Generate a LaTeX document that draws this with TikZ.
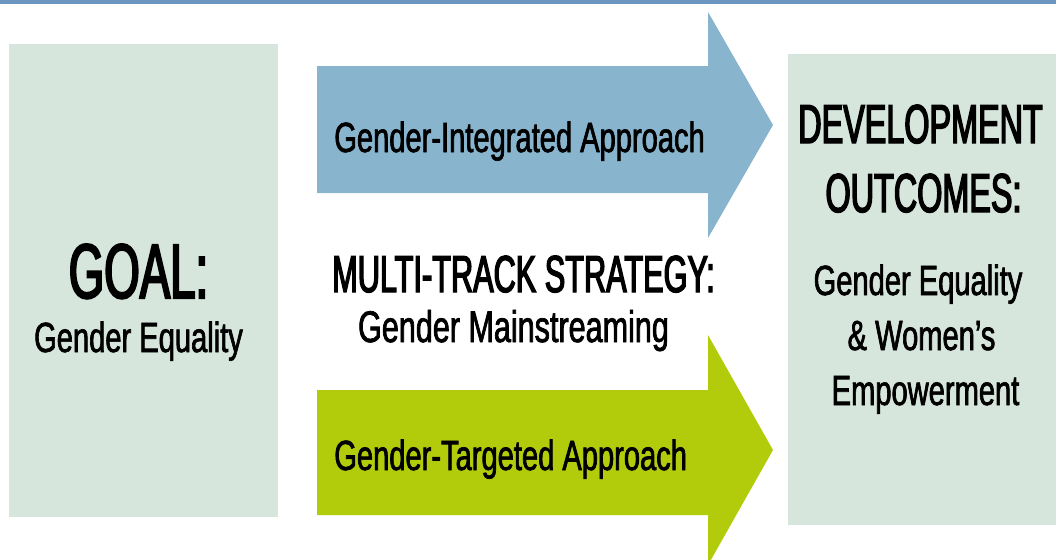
\documentclass[tikz,border=0pt]{standalone}
\usepackage{fontspec}
\setmainfont{Liberation Sans}[FakeStretch=0.69,FakeBold=1.6]
\newfontfamily\headfont{Liberation Sans}[FakeStretch=0.59,FakeBold=2.6]
\usepackage{tikz}

\definecolor{topline}{RGB}{106,150,192}
\definecolor{boxgreen}{RGB}{215,230,221}
\definecolor{trackblue}{RGB}{137,180,206}
\definecolor{trackgreen}{RGB}{178,204,11}

\begin{document}
\begin{tikzpicture}[x=0.025cm,y=-0.025cm]
        \useasboundingbox (0,0) rectangle (1056,559);
        \clip (0,0) rectangle (1056,559);
        \fill[topline] (0,0) rectangle (1056,3.5);
        \fill[boxgreen] (9,44) rectangle (278,517);
        \fill[boxgreen] (788,54) rectangle (1056,525);
        \fill[trackblue] (317,66) -- (708,66) -- (708,12) -- (773,125)
            -- (708,238) -- (708,193) -- (317,193) -- cycle;
        \fill[trackgreen] (317,390) -- (708,390) -- (708,335) -- (773,450)
            -- (708,565) -- (708,515) -- (317,515) -- cycle;
        \foreach \n/\x/\a/\f/\s/\l in{
        goal/{(138.5,298)}/base/\headfont/55/{GOAL:},
        goaltxt/{(138.5,352)}/base/\normalfont/30/{Gender Equality},
        integ/{(334,152)}/base west/\normalfont/30/{Gender-Integrated Approach},
        multi/{(523.5,292)}/base/\headfont/37/{MULTI-TRACK STRATEGY:},
        mainstr/{(513.5,342)}/base/\normalfont/31.5/{Gender Mainstreaming},
        target/{(334,470)}/base west/\normalfont/30/{Gender-Targeted Approach},
        devel/{(920.5,143)}/base/\headfont/39/{DEVELOPMENT},
        outc/{(923.5,212)}/base/\headfont/39/{OUTCOMES:},
        equal/{(918,295)}/base/\normalfont/30/{Gender Equality},
        women/{(921.5,350)}/base/\normalfont/30/{\& Women’s},
        empow/{(925.5,405)}/base/\normalfont/30/{Empowerment}
        }
        {
            \node[inner sep=0pt,anchor=\a,
            font=\f\fontsize{\s}{\s}\selectfont]
            (\n) at \x {\l};
        }
    \end{tikzpicture}
\end{document}
